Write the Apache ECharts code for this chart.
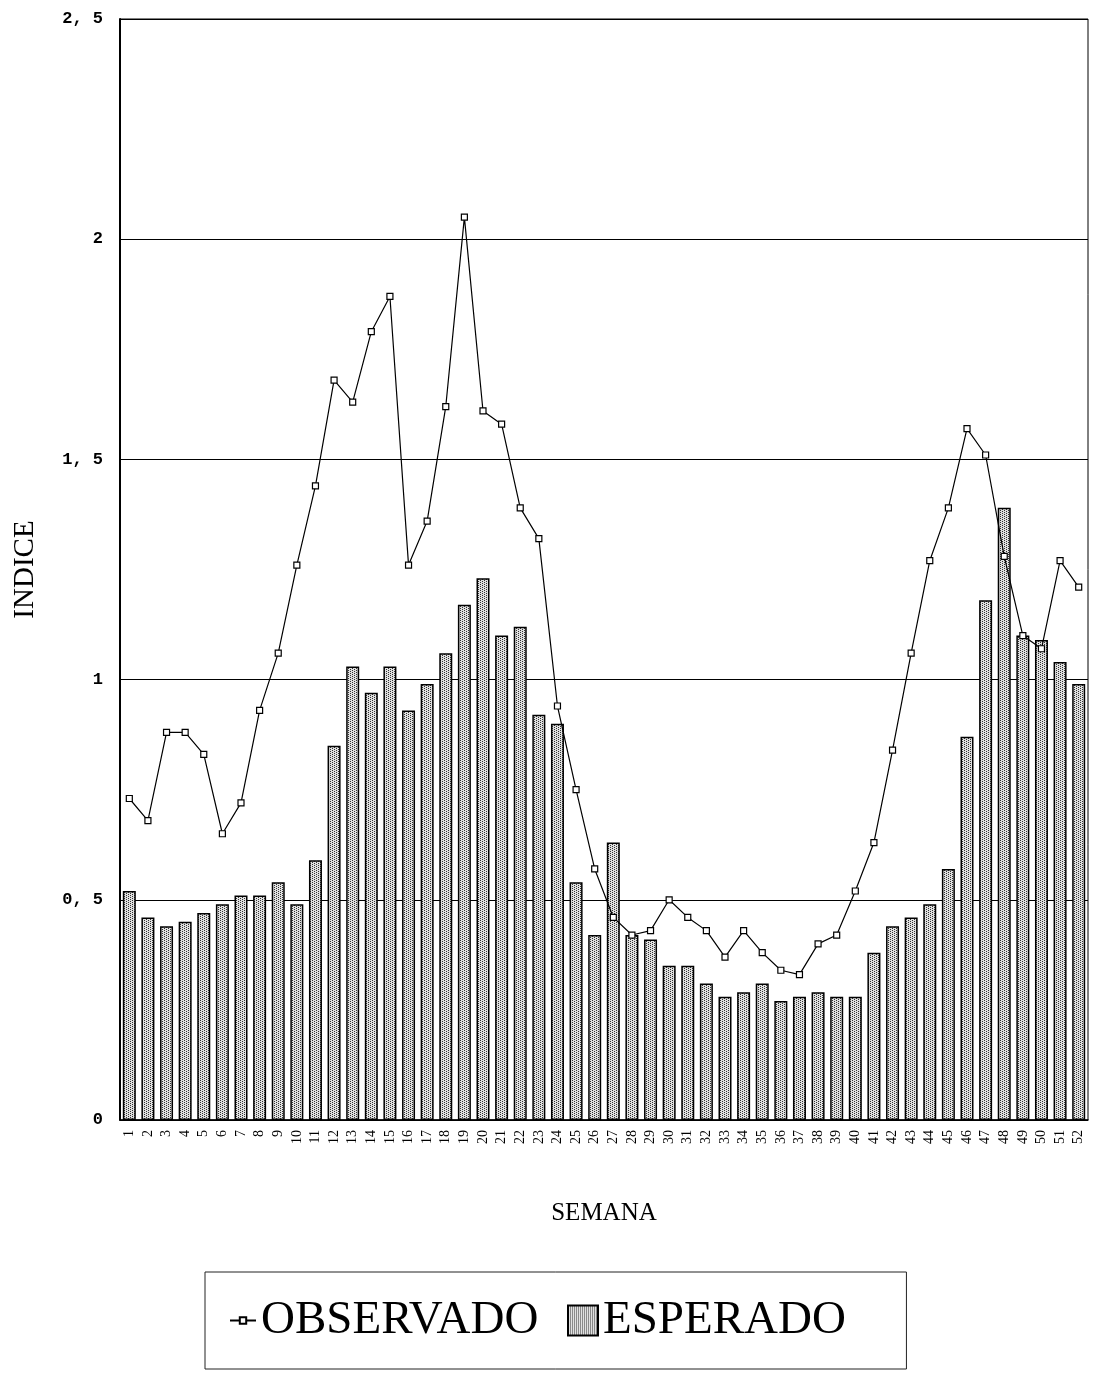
<!DOCTYPE html>
<html>
<head>
<meta charset="utf-8">
<script src="https://cdn.jsdelivr.net/npm/echarts@6/dist/echarts.min.js"></script>
<style>
html,body{margin:0;padding:0;background:#fff;}
#chart{width:1093px;height:1374px;}
</style>
</head>
<body>
<div id="chart"></div>
<script>
// ---- data ----
var semanas = [];
for (var i = 1; i <= 52; i++) semanas.push(String(i));

var observado = [0.73,0.68,0.88,0.88,0.83,0.65,0.72,0.93,1.06,1.26,
                 1.44,1.68,1.63,1.79,1.87,1.26,1.36,1.62,2.05,1.61,
                 1.58,1.39,1.32,0.94,0.75,0.57,0.46,0.42,0.43,0.50,
                 0.46,0.43,0.37,0.43,0.38,0.34,0.33,0.40,0.42,0.52,
                 0.63,0.84,1.06,1.27,1.39,1.57,1.51,1.28,1.10,1.07,
                 1.27,1.21];

var esperado = [0.52,0.46,0.44,0.45,0.47,0.49,0.51,0.51,0.54,0.49,
                0.59,0.85,1.03,0.97,1.03,0.93,0.99,1.06,1.17,1.23,
                1.10,1.12,0.92,0.90,0.54,0.42,0.63,0.42,0.41,0.35,
                0.35,0.31,0.28,0.29,0.31,0.27,0.28,0.29,0.28,0.28,
                0.38,0.44,0.46,0.49,0.57,0.87,1.18,1.39,1.10,1.09,
                1.04,0.99];

var yTicks = ['0','0, 5','1','1, 5','2','2, 5'];

// ---- stipple pattern for bars ----
var pc = document.createElement('canvas');
pc.width = 4; pc.height = 4;
var pctx = pc.getContext('2d');
pctx.fillStyle = '#e0e0e0';
pctx.fillRect(0,0,4,4);
pctx.fillStyle = '#333';
[[0,0],[2,1],[0,2],[2,3]].forEach(function(p){ pctx.fillRect(p[0],p[1],1,1); });

var chart = echarts.init(document.getElementById('chart'), null, {renderer:'canvas'});
var serif = 'Liberation Serif';
var legendText = { fontFamily: serif, fontSize: 47, color: '#000' };

chart.setOption({
  backgroundColor: '#fff',
  animation: false,
  grid: {
    left: 120, right: 5, top: 19, bottom: 254,
    outerBoundsMode: 'none',
    containLabel: false,
    show: true, borderColor: '#000', borderWidth: 1
  },
  legend: [
    {
      left: 205, top: 1272,
      padding: [25, 368, 25, 24],
      borderColor: '#222', borderWidth: 1,
      itemWidth: 26, itemHeight: 8, itemGap: 0,
      textStyle: legendText,
      data: ['OBSERVADO']
    },
    {
      left: 567, top: 1297,
      padding: 0,
      itemWidth: 30, itemHeight: 30,
      textStyle: legendText,
      data: [{ name: 'ESPERADO', icon: 'rect' }]
    }
  ],
  xAxis: {
    type: 'category',
    data: semanas,
    boundaryGap: true,
    name: 'SEMANA',
    nameLocation: 'middle',
    nameGap: 81,
    nameTextStyle: { fontFamily: serif, fontSize: 25, color: '#000' },
    axisLine: { lineStyle: { color: '#000', width: 1.5 } },
    axisTick: { show: false },
    axisLabel: { rotate: 90, interval: 0, fontFamily: serif, fontSize: 14, color: '#000', margin: 10 },
    splitLine: { show: false }
  },
  yAxis: {
    type: 'value',
    min: 0, max: 2.5, interval: 0.5,
    name: 'INDICE',
    nameLocation: 'middle',
    nameGap: 80,
    nameTextStyle: { fontFamily: serif, fontSize: 29, color: '#000' },
    axisLine: { show: true, lineStyle: { color: '#000', width: 2 } },
    axisTick: { show: false },
    axisLabel: {
      fontFamily: 'Liberation Mono', fontWeight: 'bold', fontSize: 17, color: '#000', margin: 17,
      formatter: function (v) { return yTicks[Math.round(v / 0.5)]; }
    },
    splitLine: { show: true, lineStyle: { color: '#000', width: 1 } }
  },
  series: [
    {
      name: 'ESPERADO',
      type: 'bar',
      data: esperado,
      barWidth: 13,
      itemStyle: {
        color: { image: pc, repeat: 'repeat' },
        borderColor: '#000',
        borderWidth: 1.5
      },
      z: 2
    },
    {
      name: 'OBSERVADO',
      type: 'line',
      data: observado,
      symbol: 'rect',
      symbolSize: 6,
      showAllSymbol: true,
      lineStyle: { color: '#000', width: 1.2 },
      itemStyle: { color: '#fff', borderColor: '#000', borderWidth: 1.2 },
      z: 3
    }
  ]
});
</script>
</body>
</html>
